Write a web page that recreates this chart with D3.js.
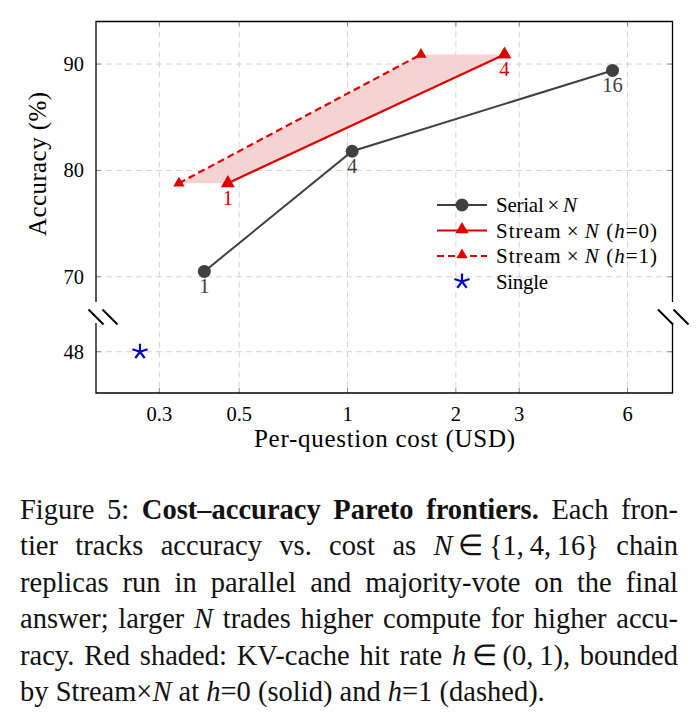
<!DOCTYPE html>
<html>
<head>
<meta charset="utf-8">
<script src="https://cdn.jsdelivr.net/npm/d3@7"></script>
<style>
  body { margin: 0; background: #fff; }
  #container { position: relative; width: 699px; height: 721px; overflow: hidden; }
  svg text { font-family: "Liberation Serif", "DejaVu Serif", serif; }
  #caption {
    position: absolute; left: 20px; top: 492px; width: 658px;
    font-family: "Liberation Serif", serif; font-size: 28.5px; color: #111;
  }
  #caption .ln { height: 36.4px; line-height: 36.4px; white-space: nowrap;
    text-align: justify; text-align-last: justify; }
  #caption .ln.last { text-align-last: left; }
</style>
</head>
<body>
<div id="container"></div>
<script>
// data
const xTicks = [0.3, 0.5, 1, 2, 3, 6];
const yTicks = [48, 70, 80, 90];

const serialN = [1, 4, 16];
const serialCost = [0.40, 1.03, 5.45];
const serialAcc = [70.5, 81.8, 89.4];

const streamN = [1, 4];
const streamH0Cost = [0.465, 2.73];
const streamH0Acc = [78.8, 90.9];
const streamH1Cost = [0.34, 1.6];
const streamH1Acc = [78.8, 90.9];

const singleCost = [0.265];
const singleAcc = [48];

const legendLabels = ["Serial", "Stream", "Stream", "Single"];
const legendWidths = [81, 161, 161, 52];

const w = 699, h = 460;
const box = {left: 96, right: 672.5, top: 21.5, bottom: 393};
const breakY = 314;

const RED = "#dc0000", GREY = "#404040", BLUE = "#0000c8";

const xScale = d3.scaleLog()
    .domain([0.2, 8])
    .range([box.left, box.right]);

// broken axis: lower piece holds 48, upper piece 66.5..94
const yScale = d3.scaleLinear()
    .domain([44.5, 51.2, 66.5, 94])
    .range([box.bottom, breakY, breakY, box.top]);

const svg = d3.select("#container")
    .append("svg")
    .attr("width", w)
    .attr("height", h)
    .style("position", "absolute")
    .style("left", 0).style("top", 0);

// grid
const grid = svg.append("g").attr("stroke", "#d4d4d4").attr("stroke-width", 1).attr("stroke-dasharray", "6,4");
grid.selectAll(".gx").data(xTicks).enter().append("line")
    .attr("x1", d => xScale(d)).attr("x2", d => xScale(d))
    .attr("y1", box.top).attr("y2", box.bottom);
grid.selectAll(".gy").data(yTicks).enter().append("line")
    .attr("x1", box.left).attr("x2", box.right)
    .attr("y1", d => yScale(d)).attr("y2", d => yScale(d));

// tick marks (inside, both sides)
const ticks = svg.append("g").attr("stroke", "#8a8a8a").attr("stroke-width", 1);
xTicks.forEach(t => {
    const x = xScale(t);
    ticks.append("line").attr("x1", x).attr("x2", x).attr("y1", box.bottom).attr("y2", box.bottom - 5);
    ticks.append("line").attr("x1", x).attr("x2", x).attr("y1", box.top).attr("y2", box.top + 5);
});
yTicks.forEach(t => {
    const y = yScale(t);
    ticks.append("line").attr("x1", box.left).attr("x2", box.left + 5).attr("y1", y).attr("y2", y);
    ticks.append("line").attr("x1", box.right).attr("x2", box.right - 5).attr("y1", y).attr("y2", y);
});

// frame with gaps at the break
const frame = svg.append("g").attr("stroke", "#000").attr("stroke-width", 1.3).attr("fill", "none");
frame.append("path").attr("d",
    `M${box.left},${breakY - 12}V${box.top}H${box.right}V${breakY - 12}`);
frame.append("path").attr("d",
    `M${box.left},${breakY + 9}V${box.bottom}H${box.right}V${breakY + 9}`);

// break marks
const brk = svg.append("g").attr("stroke", "#000").attr("stroke-width", 2);
[[box.left, 0], [box.left, 14], [box.right, -7], [box.right, 8.5]].forEach(([x0, off]) => {
    const cx = x0 + off, cy = breakY + 3;
    brk.append("line").attr("x1", cx - 7.5).attr("y1", cy - 7.5).attr("x2", cx + 7.5).attr("y2", cy + 7.5);
});

// tick labels
svg.append("g").selectAll("text").data(xTicks).enter().append("text")
    .attr("x", d => xScale(d)).attr("y", box.bottom + 28)
    .attr("text-anchor", "middle").attr("font-size", 20.5)
    .text(d => d);
svg.append("g").selectAll("text").data(yTicks).enter().append("text")
    .attr("x", box.left - 12).attr("y", d => yScale(d) + 7)
    .attr("text-anchor", "end").attr("font-size", 20.5)
    .text(d => d);

// axis titles
svg.append("text")
    .attr("x", 254).attr("y", 447)
    .attr("font-size", 25)
    .attr("textLength", 261).attr("lengthAdjust", "spacing")
    .text("Per-question cost (USD)");
svg.append("text")
    .attr("transform", "translate(46,236) rotate(-90)")
    .attr("font-size", 25)
    .attr("textLength", 144).attr("lengthAdjust", "spacing")
    .text("Accuracy (%)");

// shaded band between h=0 and h=1
const band = streamH1Cost.map((c, i) => [xScale(c), yScale(streamH1Acc[i])])
    .concat(streamH0Cost.map((c, i) => [xScale(c), yScale(streamH0Acc[i])]).reverse());
svg.append("path")
    .attr("d", "M" + band.join("L") + "Z")
    .attr("fill", "#f6d3d3");

const line = d3.line().x(d => xScale(d[0])).y(d => yScale(d[1]));
const zip = (a, b) => a.map((v, i) => [v, b[i]]);

const tri = d3.symbol().type(d3.symbolTriangle);

// Serial x N
svg.append("path").datum(zip(serialCost, serialAcc))
    .attr("d", line).attr("fill", "none").attr("stroke", GREY).attr("stroke-width", 2);
svg.append("g").selectAll("circle").data(zip(serialCost, serialAcc)).enter().append("circle")
    .attr("cx", d => xScale(d[0])).attr("cy", d => yScale(d[1])).attr("r", 6.5)
    .attr("fill", GREY);
svg.append("g").selectAll("text").data(zip(serialCost, serialAcc)).enter().append("text")
    .attr("x", d => xScale(d[0])).attr("y", d => yScale(d[1]) + 22)
    .attr("text-anchor", "middle").attr("font-size", 20.5).attr("fill", GREY)
    .text((d, i) => serialN[i]);

// Stream x N (h=1), dashed
svg.append("path").datum(zip(streamH1Cost, streamH1Acc))
    .attr("d", line).attr("fill", "none").attr("stroke", RED).attr("stroke-width", 2.2)
    .attr("stroke-dasharray", "7,4");
svg.append("g").selectAll("path").data(zip(streamH1Cost, streamH1Acc)).enter().append("path")
    .attr("d", tri.size(55))
    .attr("transform", d => `translate(${xScale(d[0])},${yScale(d[1])})`)
    .attr("fill", RED);

// Stream x N (h=0), solid
svg.append("path").datum(zip(streamH0Cost, streamH0Acc))
    .attr("d", line).attr("fill", "none").attr("stroke", RED).attr("stroke-width", 2.2);
svg.append("g").selectAll("path").data(zip(streamH0Cost, streamH0Acc)).enter().append("path")
    .attr("d", tri.size(85))
    .attr("transform", d => `translate(${xScale(d[0])},${yScale(d[1])})`)
    .attr("fill", RED);
svg.append("g").selectAll("text").data(zip(streamH0Cost, streamH0Acc)).enter().append("text")
    .attr("x", d => xScale(d[0])).attr("y", d => yScale(d[1]) + 22)
    .attr("text-anchor", "middle").attr("font-size", 20.5).attr("fill", RED)
    .text((d, i) => streamN[i]);

// five-armed star
function star(sel, r) {
    let p = "";
    for (let k = 0; k < 5; k++) {
        const a = -Math.PI / 2 + k * 2 * Math.PI / 5;
        p += `M0,0L${(r * Math.cos(a)).toFixed(2)},${(r * Math.sin(a)).toFixed(2)}`;
    }
    sel.attr("d", p).attr("stroke", BLUE).attr("stroke-width", 2.2).attr("fill", "none");
}
svg.append("g").selectAll("path").data(zip(singleCost, singleAcc)).enter().append("path")
    .attr("transform", d => `translate(${xScale(d[0])},${yScale(d[1])})`)
    .call(star, 8);

// legend
const legend = svg.append("g").attr("transform", "translate(437,205)");
const rowH = 25.5;
const rows = legend.selectAll("g").data(legendLabels).enter().append("g")
    .attr("transform", (d, i) => `translate(0,${i * rowH})`);

rows.each(function(d, i) {
    const g = d3.select(this);
    if (i === 0) {
        g.append("line").attr("x1", 0).attr("x2", 50).attr("stroke", GREY).attr("stroke-width", 2);
        g.append("circle").attr("cx", 25).attr("r", 6.5).attr("fill", GREY);
    } else if (i === 1 || i === 2) {
        g.append("line").attr("x1", 0).attr("x2", 50).attr("stroke", RED).attr("stroke-width", 2.2)
            .attr("stroke-dasharray", i === 2 ? "7,4" : null);
        g.append("path").attr("d", tri.size(i === 2 ? 55 : 75)).attr("transform", "translate(25,-1)").attr("fill", RED);
    } else {
        g.append("path").attr("transform", "translate(25,0)").call(star, 8);
    }
    const t = g.append("text").attr("x", 59).attr("y", 7).attr("font-size", 21)
        .attr("textLength", legendWidths[i]).attr("lengthAdjust", "spacing");
    t.append("tspan").text(d);
    if (i < 3) {
        t.append("tspan").text("\u2009\u00d7\u2009");
        t.append("tspan").attr("font-style", "italic").text("N");
    }
    if (i === 1 || i === 2) {
        t.append("tspan").text(" (");
        t.append("tspan").attr("font-style", "italic").text("h");
        t.append("tspan").text("=" + (i === 1 ? 0 : 1) + ")");
    }
});

// caption
const caption = d3.select("#container").append("div").attr("id", "caption");
const captionLines = [
    "Figure 5: <b>Cost–accuracy Pareto frontiers.</b> Each fron-",
    "tier tracks accuracy vs. cost as <i>N</i>&thinsp;∈&thinsp;{1,&thinsp;4,&thinsp;16} chain",
    "replicas run in parallel and majority-vote on the final",
    "answer; larger <i>N</i> trades higher compute for higher accu-",
    "racy. Red shaded: KV-cache hit rate <i>h</i>&thinsp;∈&thinsp;(0,&thinsp;1), bounded",
    "by Stream×<i>N</i> at <i>h</i>=0 (solid) and <i>h</i>=1 (dashed)."
];
caption.selectAll("div").data(captionLines).enter().append("div")
    .attr("class", (d, i) => i === captionLines.length - 1 ? "ln last" : "ln")
    .html(d => d);
</script>
</body>
</html>
